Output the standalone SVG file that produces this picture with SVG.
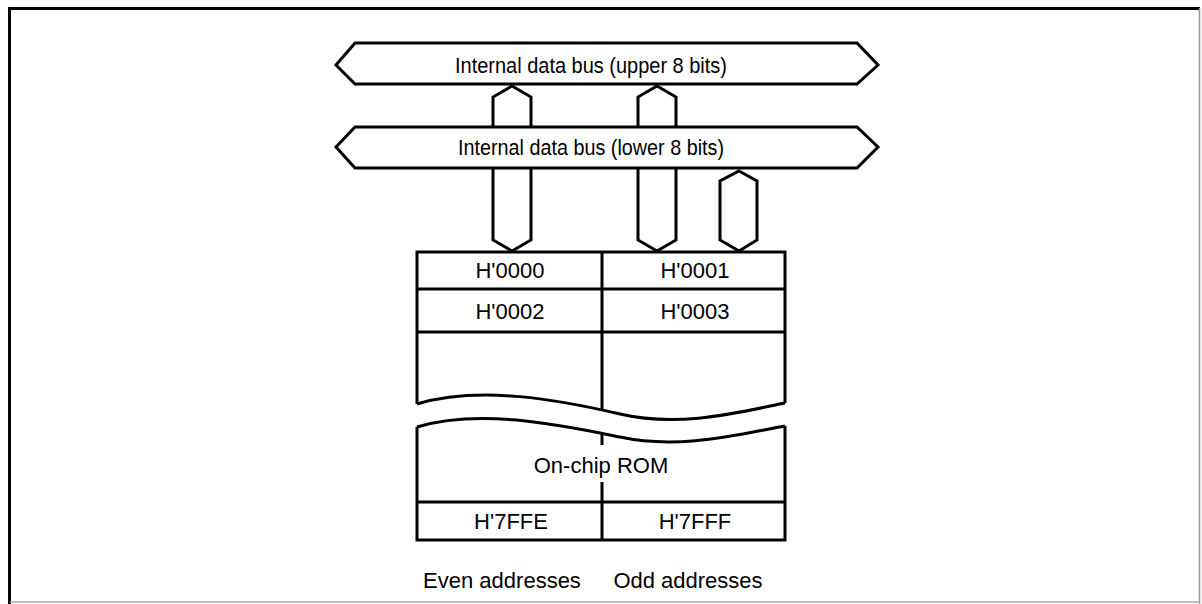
<svg xmlns="http://www.w3.org/2000/svg" width="1202" height="604" viewBox="0 0 1202 604">
<style>
.s{fill:none;stroke:#000;stroke-width:3;stroke-linejoin:miter}
.f{fill:#fff;stroke:#000;stroke-width:3}
.t{font-family:"Liberation Sans",Arial,sans-serif;font-size:22px;fill:#000;text-anchor:middle}
</style>
<rect width="1202" height="604" fill="#fff"/>
<g id="frame">
<line x1="8" y1="8.5" x2="1200" y2="8.5" stroke="#000" stroke-width="3"/>
<line x1="9.5" y1="7" x2="9.5" y2="604" stroke="#000" stroke-width="3"/>
<line x1="1199.5" y1="8" x2="1199.5" y2="604" stroke="#999" stroke-width="1.5"/>
<line x1="10" y1="602" x2="1200" y2="602" stroke="#aaa" stroke-width="1.5"/>
</g>
<g id="connectors">
<path class="s" d="M493,127 V97 L512,86 L531,97 V127"/>
<path class="s" d="M638,127 V97 L657,86 L676,97 V127"/>
<path class="s" d="M493,168 V240 L512,251 L531,240 V168"/>
<path class="s" d="M638,168 V240 L657,251 L676,240 V168"/>
<path class="s" d="M739,171 L757,181 V240 L739,251 L720,240 V181 Z"/>
</g>
<g id="bus-upper">
<path class="f" d="M355,43 H857 L878,65 L857,84 H355 L336,65 Z"/>
<text class="t" x="591" y="73" textLength="272" lengthAdjust="spacingAndGlyphs">Internal data bus (upper 8 bits)</text>
</g>
<g id="bus-lower">
<path class="f" d="M355,127 H857 L878,147 L857,168 H355 L336,147 Z"/>
<text class="t" x="591" y="155" textLength="266" lengthAdjust="spacingAndGlyphs">Internal data bus (lower 8 bits)</text>
</g>
<g id="rom">
<path class="s" d="M417,404 V252 H785 V403"/>
<line class="s" x1="417" y1="289" x2="785" y2="289"/>
<line class="s" x1="417" y1="332" x2="785" y2="332"/>
<line class="s" x1="602" y1="252" x2="602" y2="409"/>
<path class="s" d="M417,404 C480,385 560,400 620,414 C680,428 740,412 785,403"/>
<path class="s" d="M417,427 C480,408 560,425 620,437 C680,450 740,434 785,426"/>
<path class="s" d="M417,427 V540 H785 V426"/>
<line class="s" x1="417" y1="502" x2="785" y2="502"/>
<line class="s" x1="602" y1="433" x2="602" y2="445"/>
<line class="s" x1="602" y1="482" x2="602" y2="540"/>
<text class="t" x="510" y="278">H'0000</text>
<text class="t" x="695" y="278">H'0001</text>
<text class="t" x="510" y="319">H'0002</text>
<text class="t" x="695" y="319">H'0003</text>
<text class="t" x="601" y="473">On-chip ROM</text>
<text class="t" x="511" y="529">H'7FFE</text>
<text class="t" x="695" y="529">H'7FFF</text>
</g>
<g id="labels">
<text class="t" x="502" y="588">Even addresses</text>
<text class="t" x="688" y="588">Odd addresses</text>
</g>
</svg>
